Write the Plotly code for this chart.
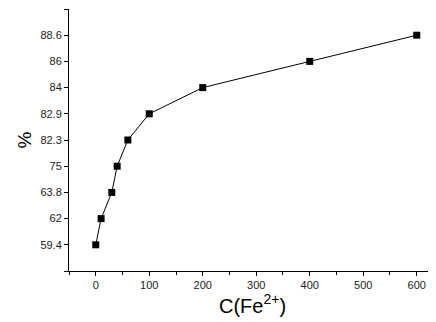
import plotly.graph_objects as go

conc = [0, 10, 30, 40, 60, 100, 200, 400, 600]
percent = ["59.4", "62", "63.8", "75", "82.3", "82.9", "84", "86", "88.6"]
y_categories = [" "] + percent + ["  "]
x_ticks = [0, 100, 200, 300, 400, 500, 600]

fig = go.Figure()
fig.add_trace(go.Scatter(
    x=conc, y=percent, mode="lines+markers",
    line=dict(color="black", width=1),
    marker=dict(symbol="square", size=7, color="black"),
    showlegend=False,
))

# the page body adds an 8px offset; the figure is sized to fill the rest of the window
font = dict(family="Liberation Sans, Arial, sans-serif", size=11, color="#222")
fig.update_layout(
    width=428, height=314,
    margin=dict(l=61, r=0, t=1, b=51, autoexpand=False),
    paper_bgcolor="white", plot_bgcolor="white",
    font=font,
)
fig.update_xaxes(
    range=[-50, 636], tickvals=x_ticks, automargin=False,
    showline=True, linecolor="black", linewidth=1,
    ticks="outside", ticklen=4, tickcolor="black",
    minor=dict(dtick=50, ticks="outside", ticklen=3, tickcolor="black"),
    showgrid=False, zeroline=False,
    title=dict(text="C(Fe<sup>2+</sup>)", font=dict(size=20, color="black"), standoff=1),
)
fig.update_yaxes(
    type="category", categoryorder="array", categoryarray=y_categories,
    range=[0, len(y_categories) - 1], automargin=True,
    showline=True, linecolor="black", linewidth=1,
    ticks="outside", ticklen=4, tickcolor="black",
    showgrid=False, zeroline=False,
    title=dict(text="%", font=dict(size=19, color="black"), standoff=3),
)
fig.write_html("out.html")
